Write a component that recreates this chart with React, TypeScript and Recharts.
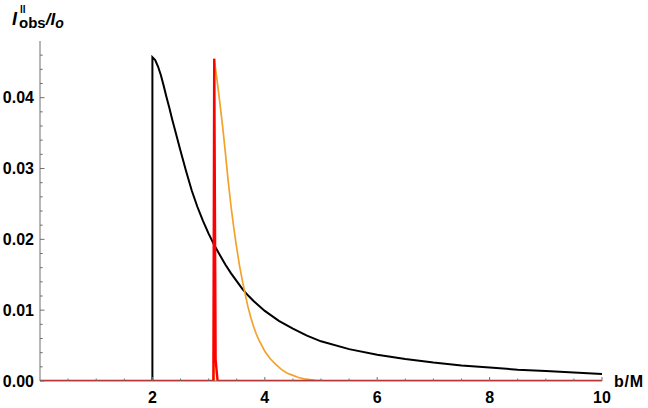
import { LineChart, Line, XAxis, YAxis } from "recharts";

// impact parameter b/M and observed intensity for each curve
const blackB = [0, 2, 2, 2.05, 2.1, 2.15, 2.2, 2.25, 2.3, 2.35, 2.4, 2.5, 2.6, 2.7, 2.8, 2.9, 3.0, 3.1, 3.2, 3.3, 3.4, 3.5, 3.6, 3.7, 3.8, 3.9, 4.0, 4.25, 4.5, 4.75, 5.0, 5.5, 6.0, 6.5, 7.0, 7.5, 8.0, 8.5, 9.0, 9.5, 10];
const blackI = [0, 0, 0.0457, 0.0453, 0.0444, 0.0432, 0.0417, 0.0401, 0.0386, 0.037, 0.0355, 0.0325, 0.0296, 0.0269, 0.0246, 0.0226, 0.0208, 0.0192, 0.0178, 0.0164, 0.0152, 0.0141, 0.013, 0.0121, 0.0113, 0.0106, 0.0099, 0.0085, 0.0074, 0.0064, 0.0056, 0.0045, 0.0037, 0.0031, 0.0026, 0.0022, 0.0019, 0.0016, 0.0014, 0.0012, 0.001];

const orangeB = [0, 3.1, 3.1, 3.15, 3.2, 3.25, 3.3, 3.35, 3.4, 3.45, 3.5, 3.55, 3.6, 3.65, 3.7, 3.75, 3.8, 3.85, 3.9, 4.0, 4.1, 4.2, 4.3, 4.4, 4.5, 4.6, 4.7, 4.8, 4.9, 5.0, 5.1, 10];
const orangeI = [0, 0, 0.0455, 0.0425, 0.0393, 0.0359, 0.0321, 0.0281, 0.0246, 0.0215, 0.0188, 0.0163, 0.0142, 0.0123, 0.0105, 0.009, 0.0077, 0.0066, 0.0057, 0.0042, 0.0031, 0.0023, 0.0016, 0.0011, 0.0008, 0.0005, 0.0003, 0.0002, 0.0001, 0.00005, 0, 0];

const redB = [0, 3.085, 3.1, 3.125, 3.16, 10];
const redI = [0, 0, 0.0455, 0.003, 0, 0];

const xTicks = [0.5, 1, 1.5, 2, 2.5, 3, 3.5, 4, 4.5, 5, 5.5, 6, 6.5, 7, 7.5, 8, 8.5, 9, 9.5, 10];
const xLabels = [2, 4, 6, 8, 10];
const yTicks = [0, 0.002, 0.004, 0.006, 0.008, 0.01, 0.012, 0.014, 0.016, 0.018, 0.02, 0.022, 0.024, 0.026, 0.028, 0.03, 0.032, 0.034, 0.036, 0.038, 0.04, 0.042, 0.044, 0.046];
const yLabels = [0, 0.01, 0.02, 0.03, 0.04];

const toRows = (bs: number[], vs: number[]) => bs.map((b, i) => ({ b, v: vs[i] }));

const axisColor = "#6f6f6f";
const labelFont = "'Liberation Sans', Arial, sans-serif";

const XTick = (props: any) => {
  const { x, y, payload } = props;
  const major = xLabels.includes(payload.value);
  return (
    <g>
      <line x1={x} x2={x} y1={y} y2={y - (major ? 4 : 2.5)} stroke={axisColor} />
      {major && (
        <text x={x} y={y + 22} textAnchor="middle" fontFamily={labelFont} fontWeight="bold" fontSize={16} fill="#000">
          {payload.value}
        </text>
      )}
    </g>
  );
};

const YTick = (props: any) => {
  const { x, y, payload } = props;
  const major = yLabels.some((m) => Math.abs(m - payload.value) < 1e-9);
  return (
    <g>
      <line x1={x} x2={x + (major ? 4.5 : 2.7)} y1={y} y2={y} stroke={axisColor} />
      {major && (
        <text x={x - 6} y={y} dy="0.36em" textAnchor="end" fontFamily={labelFont} fontWeight="bold" fontSize={16} fill="#000">
          {payload.value.toFixed(2)}
        </text>
      )}
    </g>
  );
};

export default function App() {
  return (
    <div style={{ position: "absolute", left: 0, top: 0, width: 648, height: 408, background: "#fff" }}>
      <LineChart width={648} height={408} margin={{ top: 41, right: 46, bottom: 0, left: 0 }}>
        <XAxis
          type="number"
          dataKey="b"
          domain={[0, 10]}
          ticks={xTicks}
          interval={0}
          height={27}
          tickSize={0}
          tickMargin={0}
          tickLine={false}
          tick={XTick}
          axisLine={{ stroke: axisColor }}
          allowDataOverflow
        />
        <YAxis
          type="number"
          domain={[0, 0.048]}
          ticks={yTicks}
          interval={0}
          width={40}
          tickSize={0}
          tickMargin={0}
          tickLine={false}
          tick={YTick}
          axisLine={{ stroke: axisColor }}
          allowDataOverflow
        />
        <Line data={toRows(blackB, blackI)} dataKey="v" type="linear" stroke="#000" strokeWidth={2} dot={false} isAnimationActive={false} />
        <Line data={toRows(orangeB, orangeI)} dataKey="v" type="linear" stroke="#f3a22a" strokeWidth={1.7} dot={false} isAnimationActive={false} />
        <Line data={toRows(redB, redI)} dataKey="v" type="linear" stroke="#ff0000" strokeWidth={2.4} dot={false} isAnimationActive={false} />
      </LineChart>
      <svg width={648} height={408} style={{ position: "absolute", left: 0, top: 0, pointerEvents: "none" }}>
        <text y={25} fontFamily={labelFont} fontWeight="bold" fill="#000">
          <tspan x={12} fontSize={18} fontStyle="italic">I</tspan>
          <tspan x={20} dy={-12} fontSize={10}>ll</tspan>
          <tspan x={19} dy={15} fontSize={15}>obs</tspan>
          <tspan dy={-3} fontSize={17} fontStyle="italic">/I</tspan>
          <tspan dy={3} fontSize={14} fontStyle="italic">o</tspan>
        </text>
        <text x={614} y={387} fontFamily={labelFont} fontWeight="bold" fontSize={16} fill="#000" letterSpacing={0.8}>
          b/M
        </text>
      </svg>
    </div>
  );
}
